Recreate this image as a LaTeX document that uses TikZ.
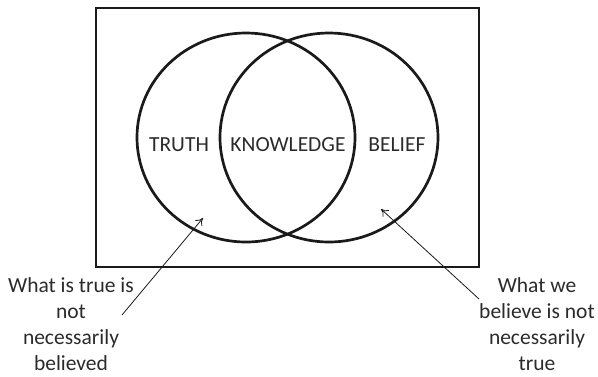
\documentclass[tikz,border=0pt]{standalone}
\usepackage{fontspec}
\setmainfont{Carlito}
\usetikzlibrary{shapes.geometric,arrows.meta}
\definecolor{ink}{HTML}{1A1A1A}
\definecolor{txt}{HTML}{2B2B2B}
\begin{document}
\begin{tikzpicture}[x=1pt,y=-1pt,
  set/.style={ellipse,draw=ink,line width=2.7pt,minimum width=218pt,minimum height=209pt,inner sep=0pt},
  lbl/.style={text=txt,font=\fontsize{21.5}{21.5}\selectfont,inner sep=0pt},
  note/.style={text=txt,font=\fontsize{21.5}{26}\selectfont,align=center,inner sep=0pt},
  pointer/.style={draw=ink,line width=0.8pt,-{To[length=7pt,width=9pt]}}]
\useasboundingbox (0,0) rectangle (598,376);
\node[draw=ink,line width=2.8pt,minimum width=383pt,minimum height=259pt,inner sep=0pt] (frame) at (287.5,137.5) {};
\node[set] (truth) at (246,137.5) {};
\node[set] (belief) at (329,137.5) {};
\node[lbl] (t) at (179,145) {TRUTH};
\node[lbl] (k) at (288,145) {KNOWLEDGE};
\node[lbl] (b) at (397,145) {BELIEF};
\node[note] (ln) at (71,324) {What is true is\\not\\necessarily\\believed};
\node[note] (rn) at (537,324) {What we\\believe is not\\necessarily\\true};
\coordinate (ltail) at (122,315);
\coordinate (ltip) at (203,218);
\coordinate (rtail) at (479,299);
\coordinate (rtip) at (381,209);
\draw[pointer] (ltail) -- (ltip);
\draw[pointer] (rtail) -- (rtip);
\end{tikzpicture}
\end{document}
